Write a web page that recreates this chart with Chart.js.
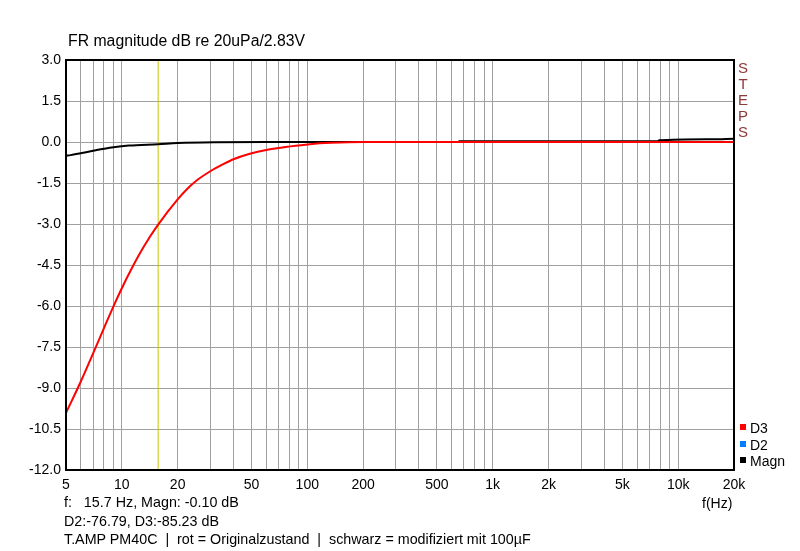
<!DOCTYPE html>
<html>
<head>
<meta charset="utf-8">
<script src="https://cdn.jsdelivr.net/npm/chart.js@4"></script>
<style>
  body { margin: 0; background: #fff; }
  #wrap { position: relative; width: 800px; height: 551px; font-family: "Liberation Sans", Arial, sans-serif; font-size: 14px; color: #000; }
  #wrap canvas { position: absolute; left: 0; top: 0; }
  .txt { position: absolute; white-space: pre; line-height: 16px; }
  .title { font-size: 15.8px; }
  .foot { font-size: 14.3px; }
  .steps { position: absolute; left: 737px; top: 60px; width: 12px; text-align: center; color: #8b3a3a; font-size: 15px; line-height: 16px; }
  .leg { position: absolute; left: 740px; white-space: pre; line-height: 16px; }
  .leg i { display: inline-block; width: 6px; height: 6px; margin-right: 4px; vertical-align: 3px; }
</style>
</head>
<body>
<div id="wrap">
  <canvas id="frChart" width="800" height="551"></canvas>
  <div class="txt title" style="left:68px;top:33px;">FR magnitude dB re 20uPa/2.83V</div>
  <div class="steps">S<br>T<br>E<br>P<br>S</div>
  <div class="leg" style="top:420px;"><i style="background:#ff0000"></i>D3</div>
  <div class="leg" style="top:437px;"><i style="background:#0080ff"></i>D2</div>
  <div class="leg" style="top:453px;"><i style="background:#000"></i>Magn</div>
  <div class="txt" style="left:702px;top:495px;">f(Hz)</div>
  <div class="txt foot" style="left:64px;top:494px;">f:   15.7 Hz, Magn: -0.10 dB</div>
  <div class="txt foot" style="left:64px;top:513px;">D2:-76.79, D3:-85.23 dB</div>
  <div class="txt foot" style="left:64px;top:531px;">T.AMP PM40C  |  rot = Originalzustand  |  schwarz = modifiziert mit 100µF</div>
</div>
<script>
// red = Originalzustand
const redFreq = [5, 6, 7, 8, 9, 10, 11.3, 12.5, 14.2, 15.7, 20, 22.5, 25.4, 30, 35, 40, 49, 60, 81, 103, 135, 200, 20000];
const redDb = [-9.91, -8.77, -7.73, -6.82, -6.02, -5.35, -4.63, -4.08, -3.46, -3.02, -2.1, -1.72, -1.4, -1.07, -0.82, -0.63, -0.43, -0.29, -0.16, -0.08, -0.03, 0, 0];

// black = modifiziert mit 100uF
const blackFreq = [5, 5.3, 6, 7, 8.6, 10.9, 15.7, 20, 32, 60, 650, 660, 7800, 7900, 15000, 20000];
const blackDb = [-0.5, -0.48, -0.41, -0.32, -0.21, -0.13, -0.08, -0.04, -0.01, 0, 0, 0.03, 0.03, 0.06, 0.1, 0.12];

// cursor
const cursorFreq = 15.7;

const xLabels = [5, 10, 20, 50, 100, 200, 500, 1000, 2000, 5000, 10000, 20000];
const yTicks = [-12, -10.5, -9, -7.5, -6, -4.5, -3, -1.5, 0, 1.5, 3];

function toPoints(xs, ys) {
    return xs.map((x, i) => ({ x: x, y: ys[i] }));
}

// grid at 1..9 of every decade
const gridFreqs = [5, 6, 7, 8, 9];
[10, 100, 1000].forEach(d => {
    for (let m = 1; m <= 9; m++) gridFreqs.push(m * d);
});
gridFreqs.push(10000, 20000);

const frame = {
    id: 'frame',
    afterDraw(chart) {
        const a = chart.chartArea;
        const ctx = chart.ctx;
        ctx.save();
        ctx.strokeStyle = '#000';
        ctx.lineWidth = 2;
        ctx.strokeRect(a.left, a.top, a.right - a.left, a.bottom - a.top);
        ctx.restore();
    }
};

new Chart(document.getElementById('frChart'), {
    type: 'line',
    data: {
        datasets: [
            {
                label: 'D3',
                data: toPoints(redFreq, redDb),
                borderColor: '#ff0000',
                borderWidth: 2,
                pointRadius: 0,
                cubicInterpolationMode: 'monotone',
                order: 0
            },
            {
                label: 'Magn',
                data: toPoints(blackFreq, blackDb),
                borderColor: '#000000',
                borderWidth: 2,
                pointRadius: 0,
                cubicInterpolationMode: 'monotone',
                order: 1
            },
            {
                label: 'cursor',
                data: [{ x: cursorFreq, y: -12 }, { x: cursorFreq, y: 3 }],
                borderColor: '#c8c800',
                borderWidth: 1,
                pointRadius: 0,
                order: 2
            }
        ]
    },
    options: {
        responsive: false,
        animation: false,
        layout: { padding: { left: 0, right: 66, top: 60, bottom: 0 } },
        plugins: {
            legend: { display: false },
            tooltip: { enabled: false }
        },
        scales: {
            x: {
                type: 'logarithmic',
                min: 5,
                max: 20000,
                afterBuildTicks: scale => {
                    scale.ticks = gridFreqs.map(v => ({ value: v }));
                },
                afterFit: scale => { scale.height = 81; },
                grid: { color: '#a0a0a0', drawTicks: false },
                border: { display: false },
                ticks: {
                    autoSkip: false,
                    maxRotation: 0,
                    padding: 7,
                    color: '#000',
                    font: { family: '"Liberation Sans Narrow", "Liberation Sans"', size: 14 },
                    callback: v => {
                        if (!xLabels.includes(v)) return '';
                        return v >= 1000 ? (v / 1000) + 'k' : String(v);
                    }
                }
            },
            y: {
                min: -12,
                max: 3,
                afterBuildTicks: scale => {
                    scale.ticks = yTicks.map(v => ({ value: v }));
                },
                afterFit: scale => { scale.width = 66; },
                grid: { color: '#a0a0a0', drawTicks: false },
                border: { display: false },
                ticks: {
                    padding: 5,
                    color: '#000',
                    font: { family: 'Liberation Sans', size: 14 },
                    callback: v => v.toFixed(1)
                }
            }
        }
    },
    plugins: [frame]
});
</script>
</body>
</html>
